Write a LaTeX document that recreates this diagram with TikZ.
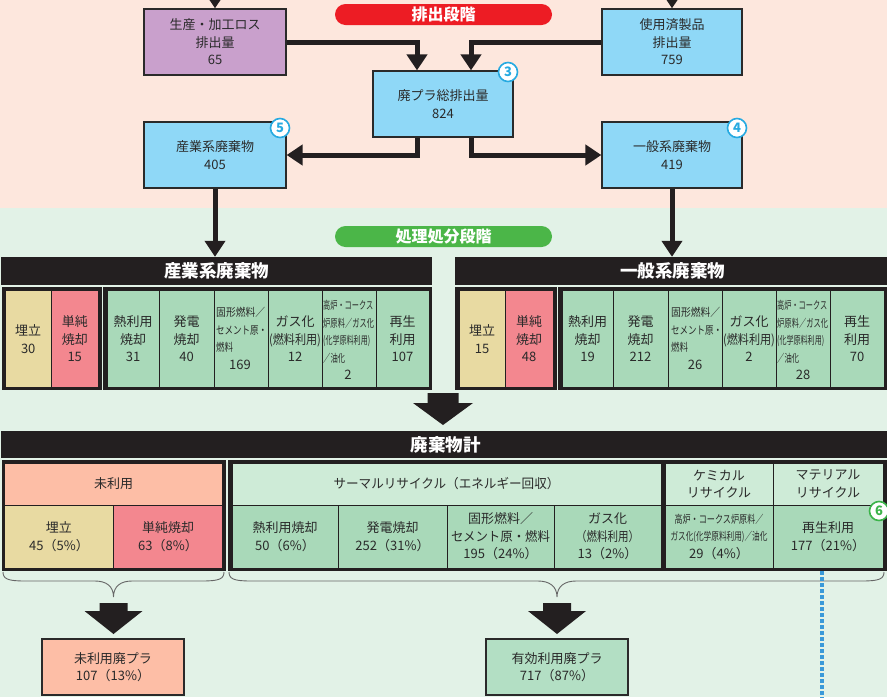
\documentclass[tikz,border=0pt]{standalone}
\usepackage{fontspec}
\setmainfont{Noto Sans CJK JP}
\usepackage{graphicx}
\usetikzlibrary{arrows.meta}
\definecolor{peachbg}{HTML}{FDE7DD}
\definecolor{greenbg}{HTML}{E2F2E7}
\definecolor{purplec}{HTML}{C9A0CC}
\definecolor{skyc}{HTML}{8FD8F7}
\definecolor{tanc}{HTML}{E8DAA2}
\definecolor{pinkc}{HTML}{F3878F}
\definecolor{greenc}{HTML}{A9D9B9}
\definecolor{lightgc}{HTML}{CEEBD7}
\definecolor{salmonc}{HTML}{FDBEA6}
\definecolor{effc}{HTML}{B3DFC4}
\definecolor{redc}{HTML}{ED1C24}
\definecolor{grbanc}{HTML}{4BB648}
\definecolor{cyanc}{HTML}{27AAE1}
\definecolor{badgegc}{HTML}{3CB44A}
\definecolor{dotc}{HTML}{3A9AD9}
\definecolor{txtc}{HTML}{2A2A2A}
\definecolor{framec}{HTML}{231F20}
\newcommand\fitw[2]{\resizebox{#1pt}{\height}{#2}}
\newcommand\mkcell[7]{\node[cellbase,#6,minimum width={#4-#2},minimum height={#5-#3}] (#1) at ({(#2+#4)/2},{(#3+#5)/2}) {#7};}
\tikzset{
  box/.style={draw=txtc, line width=1.2pt, align=center, inner sep=0pt, text=txtc,
    font=\fontsize{13}{17.5}\selectfont},
  cellbase/.style={draw=framec, line width=0.8pt, align=center, inner sep=0pt, text=txtc,
    font=\fontsize{13}{17.5}\selectfont},
  celltxt/.style={inner sep=0pt, text=txtc, font=\fontsize{13}{17.5}\selectfont},
  smalltxt/.style={inner sep=0pt, align=left, text=txtc, font=\fontsize{11}{17.5}\selectfont},
  headbox/.style={fill=framec, text=white, inner sep=0pt, font=\fontsize{17.5}{20}\selectfont\bfseries},
  banner/.style={rounded corners=10.5pt, text=white, inner sep=0pt, minimum width=217pt,
    minimum height=21pt, font=\fontsize{16}{18}\selectfont\bfseries},
  badge/.style={circle, draw=cyanc, line width=1.6pt, fill=white, text=cyanc, inner sep=0pt,
    minimum size=19pt, font=\fontsize{13}{14}\selectfont\bfseries},
  conn/.style={draw=framec, line width=5pt, -{Triangle[width=20pt,length=16pt]}},
  frame/.style={fill=framec},
  bracec/.style={draw=black!60, line width=0.9pt},
}
\begin{document}
\begin{tikzpicture}[x=1pt,y=-1pt]
\useasboundingbox (0,0) rectangle (887,697);
\clip (0,0) rectangle (887,697);
% backgrounds
\fill[peachbg] (0,0) rectangle (887,208);
\fill[greenbg] (0,208) rectangle (887,697);
% banners
\node[banner, fill=redc] (ban1) at (443.5,14.5) {排出段階};
\node[banner, fill=grbanc] (ban2) at (443.5,236.5) {処理処分段階};
% top boxes
\node[box, fill=purplec, minimum width=142pt, minimum height=66pt] (loss) at (215,42) {生産・加工ロス\\排出量\\65};
\node[box, fill=skyc, minimum width=140pt, minimum height=66pt] (used) at (672,42) {使用済製品\\排出量\\759};
\node[box, fill=skyc, minimum width=140pt, minimum height=66pt] (total) at (443,104) {廃プラ総排出量\\824};
\node[box, fill=skyc, minimum width=142pt, minimum height=66pt] (ind) at (215,155) {産業系廃棄物\\405};
\node[box, fill=skyc, minimum width=140pt, minimum height=66pt] (gen) at (672,155) {一般系廃棄物\\419};
% headers
\node[headbox, minimum width=431pt, minimum height=28pt] (indhead) at (216.5,271) {産業系廃棄物};
\node[headbox, minimum width=435pt, minimum height=28pt] (genhead) at (672.5,271) {一般系廃棄物};
\node[headbox, minimum width=889pt, minimum height=27pt] (tothead) at (445.5,444.5) {廃棄物計};
% connectors
\coordinate (inA) at (215,-40);
\coordinate (inB) at (672,-40);
\draw[conn] (inA) -- (loss.north);
\draw[conn] (inB) -- (used.north);
\draw[conn] (loss.east) -| ([xshift=-26pt]total.north);
\draw[conn] (used.west) -| ([xshift=28pt]total.north);
\draw[conn] ([xshift=-26pt]total.south) |- (ind.east);
\draw[conn] ([xshift=28pt]total.south) |- (gen.west);
\draw[conn] (ind.south) -- (ind.south |- indhead.north);
\draw[conn] (gen.south) -- (gen.south |- genhead.north);
% badges
\node[badge] (bdg3) at (508,72) {3};
\node[badge] (bdg5) at (280,128) {5};
\node[badge] (bdg4) at (737,128) {4};
% industrial table
\fill[frame] (1.7,287.3) rectangle (102,390);
\fill[frame] (103,287.3) rectangle (432,390);
\mkcell{a1}{5}{290.7}{51.5}{387.3}{fill=tanc}{埋立\\30}
\mkcell{a2}{51.5}{290.7}{98}{387.3}{fill=pinkc}{単純\\焼却\\15}
\mkcell{a3}{107}{290.7}{159}{387.3}{fill=greenc}{熱利用\\焼却\\31}
\mkcell{a4}{159}{290.7}{214}{387.3}{fill=greenc}{発電\\焼却\\40}
\mkcell{a5}{214}{290.7}{268}{387.3}{fill=greenc}{}
\mkcell{a6}{268}{290.7}{322}{387.3}{fill=greenc}{ガス化\\\fitw{52}{(燃料利用)}\\12}
\mkcell{a7}{322}{290.7}{376}{387.3}{fill=greenc}{}
\mkcell{a8}{376}{290.7}{429}{387.3}{fill=greenc}{再生\\利用\\107}
\node[smalltxt, anchor=west] (a5t) at (216,330) {\fitw{49}{固形燃料／}\\\fitw{51}{セメント原・}\\\fitw{17}{燃料}};
\node[celltxt] (a5n) at (240,365) {169};
\node[smalltxt, anchor=west] (a7t) at (323,332) {\fitw{50}{高炉・コークス}\\\fitw{51}{炉原料／ガス化}\\\fitw{47}{(化学原料利用)}\\\fitw{22}{／油化}};
\node[celltxt] (a7n) at (348,375) {2};
% general table
\fill[frame] (455,287.3) rectangle (557,390);
\fill[frame] (558,287.3) rectangle (890,390);
\mkcell{b1}{459}{290.7}{505}{387.3}{fill=tanc}{埋立\\15}
\mkcell{b2}{505}{290.7}{553}{387.3}{fill=pinkc}{単純\\焼却\\48}
\mkcell{b3}{562}{290.7}{613}{387.3}{fill=greenc}{熱利用\\焼却\\19}
\mkcell{b4}{613}{290.7}{668}{387.3}{fill=greenc}{発電\\焼却\\212}
\mkcell{b5}{668}{290.7}{722}{387.3}{fill=greenc}{}
\mkcell{b6}{722}{290.7}{776}{387.3}{fill=greenc}{ガス化\\\fitw{52}{(燃料利用)}\\2}
\mkcell{b7}{776}{290.7}{830}{387.3}{fill=greenc}{}
\mkcell{b8}{830}{290.7}{884}{387.3}{fill=greenc}{再生\\利用\\70}
\node[smalltxt, anchor=west] (b5t) at (671,330) {\fitw{49}{固形燃料／}\\\fitw{51}{セメント原・}\\\fitw{17}{燃料}};
\node[celltxt] (b5n) at (695,365) {26};
\node[smalltxt, anchor=west] (b7t) at (777,332) {\fitw{50}{高炉・コークス}\\\fitw{51}{炉原料／ガス化}\\\fitw{47}{(化学原料利用)}\\\fitw{22}{／油化}};
\node[celltxt] (b7n) at (803,375) {28};
% big arrow
\fill[framec] (427.5,393) -- (458.5,393) -- (458.5,403) -- (473,403) -- (443,425) -- (413,403) -- (427.5,403) -- cycle;
% total table
\fill[frame] (1.5,460) rectangle (226,571);
\fill[frame] (228,460) rectangle (890,571);
\mkcell{c0}{4.5}{463}{222.5}{505}{fill=salmonc}{未利用}
\mkcell{c1}{4.5}{505}{113.5}{568}{fill=tanc}{埋立\\45（5\%）}
\mkcell{c2}{113.5}{505}{222.5}{568}{fill=pinkc}{単純焼却\\63（8\%）}
\mkcell{d0}{232}{463}{661}{505}{fill=lightgc}{\fitw{226}{サーマルリサイクル（エネルギー回収）}}
\mkcell{d1}{232}{505}{338}{568}{fill=greenc}{熱利用焼却\\50（6\%）}
\mkcell{d2}{338}{505}{447}{568}{fill=greenc}{発電焼却\\252（31\%）}
\mkcell{d3}{447}{505}{554}{568}{fill=greenc}{固形燃料／\\\fitw{99}{セメント原・燃料}\\195（24\%）}
\mkcell{d4}{554}{505}{661}{568}{fill=greenc}{ガス化\\\fitw{63}{（燃料利用）}\\13（2\%）}
\mkcell{e0}{665}{463}{773}{505}{fill=lightgc}{ケミカル\\リサイクル}
\mkcell{f0}{773}{463}{883}{505}{fill=lightgc}{マテリアル\\リサイクル}
\mkcell{e1}{665}{505}{773}{568}{fill=greenc}{\fitw{89}{\fontsize{11}{12}\selectfont 高炉・コークス炉原料／}\\\fitw{97}{\fontsize{11}{12}\selectfont ガス化(化学原料利用)／油化}\\29（4\%）}
\mkcell{f1}{773}{505}{883}{568}{fill=greenc}{再生利用\\177（21\%）}
\node[badge, draw=badgegc, text=badgegc] (bdg6) at (879,511) {6};
% braces
\draw[bracec] (3,572) .. controls (3,579) and (8,581) .. (25,581) -- (95,581) .. controls (106,581) and (113.5,586) .. (113.5,597) .. controls (113.5,586) and (121,581) .. (132,581) -- (202,581) .. controls (219,581) and (224,579) .. (224,572);
\draw[bracec] (229,572) .. controls (229,579) and (234,581) .. (251,581) -- (538,581) .. controls (549,581) and (557,586) .. (557,597) .. controls (557,586) and (565,581) .. (576,581) -- (862,581) .. controls (879,581) and (884,579) .. (884,572);
% dotted line
\draw[dotc, line width=4pt, dash pattern=on 4pt off 2pt] (822,571) -- (822,700);
% lower arrows
\fill[framec] (99.5,603) -- (127.5,603) -- (127.5,611) -- (142.5,611) -- (113.5,634) -- (84.5,611) -- (99.5,611) -- cycle;
\fill[framec] (543,603) -- (571,603) -- (571,611) -- (586,611) -- (557,634) -- (528,611) -- (543,611) -- cycle;
% bottom boxes
\node[box, fill=salmonc, minimum width=142pt, minimum height=56pt] (unused) at (113,667) {未利用廃プラ\\107（13\%）};
\node[box, fill=effc, minimum width=142pt, minimum height=56pt] (effective) at (557,667) {有効利用廃プラ\\717（87\%）};
\end{tikzpicture}
\end{document}
